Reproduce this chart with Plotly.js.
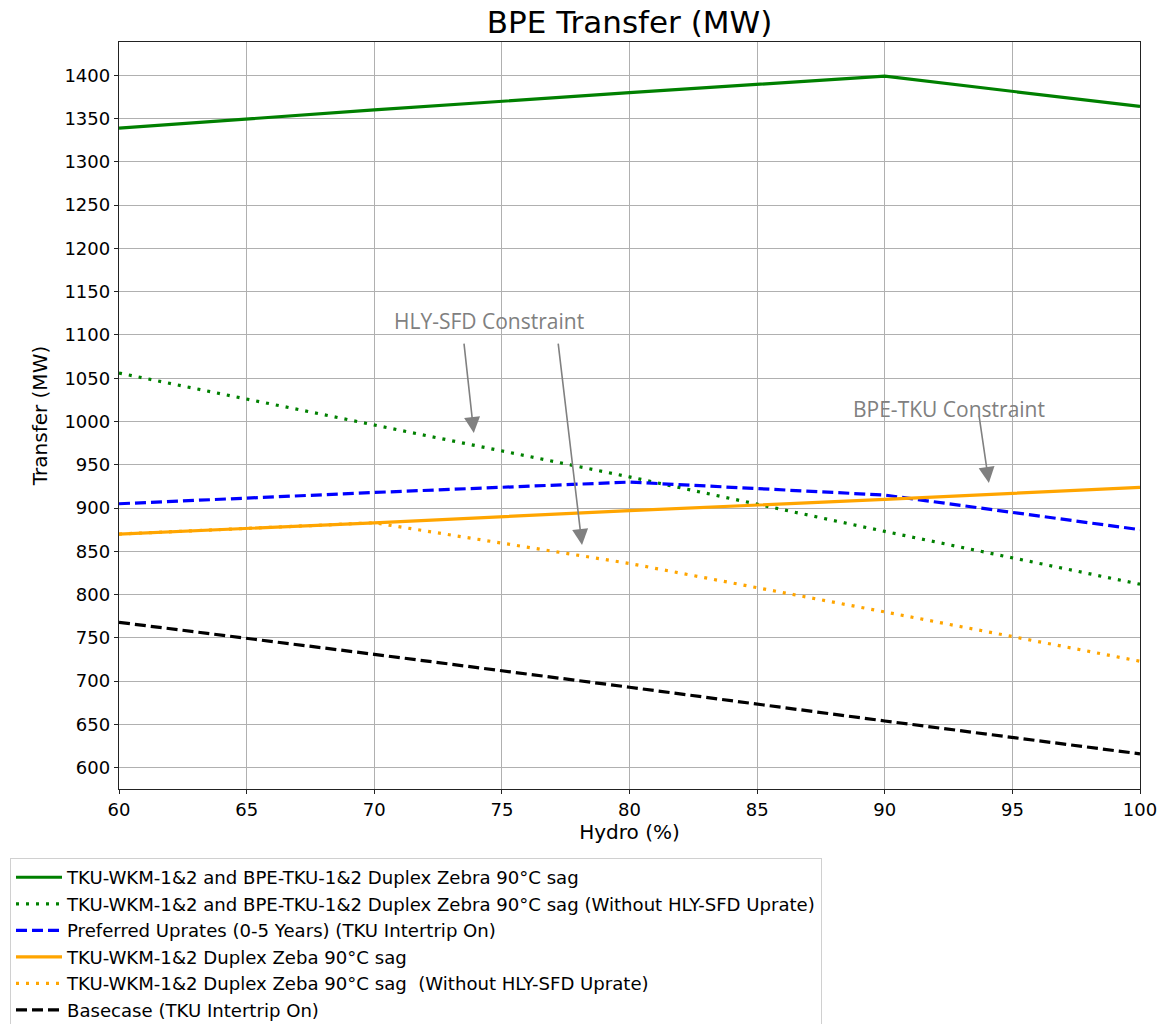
<!DOCTYPE html>
<html>
<head>
<meta charset="utf-8">
<script src="https://cdn.plot.ly/plotly-3.0.1.min.js"></script>
<style>html,body{margin:0;padding:0;background:#fff;}#chart{width:1166px;height:1024px;}</style>
</head>
<body>
<div id="chart"></div>
<script>
const hydro = [60, 70, 80, 90, 100];
const greenSolid = [1339, 1360, 1380, 1399, 1364];
const greenDotted = [1056, 996, 936, 873, 812];
const blueDashed = [905, 918, 930, 915, 875];
const orangeSolid = [870, 883, 897, 910, 924];
const orangeDotted = [870, 883, 836, 780, 723];
const blackDashed = [768, 731, 693, 654, 616];
const seriesNames = [
  'TKU-WKM-1&2 and BPE-TKU-1&2 Duplex Zebra 90°C sag',
  'TKU-WKM-1&2 and BPE-TKU-1&2 Duplex Zebra 90°C sag (Without HLY-SFD Uprate)',
  'Preferred Uprates (0-5 Years) (TKU Intertrip On)',
  'TKU-WKM-1&2 Duplex Zeba 90°C sag',
  'TKU-WKM-1&2 Duplex Zeba 90°C sag  (Without HLY-SFD Uprate)',
  'Basecase (TKU Intertrip On)'
];
const xTicks = [60, 65, 70, 75, 80, 85, 90, 95, 100];
const yTicks = [600, 650, 700, 750, 800, 850, 900, 950, 1000, 1050, 1100, 1150, 1200, 1250, 1300, 1350, 1400];

const values = [greenSolid, greenDotted, blueDashed, orangeSolid, orangeDotted, blackDashed];
const colors = ['#008000', '#008000', '#0000ff', '#ffa500', '#ffa500', '#000000'];
const dashes = ['solid', '3px,7px', '11px,5px', 'solid', '3px,7px', '11px,5px'];

const traces = values.map((v, i) => ({
  x: hydro, y: v, type: 'scatter', mode: 'lines', name: seriesNames[i],
  line: {color: colors[i], width: 3.2, dash: dashes[i]}
}));

const gray = '#808080';
const FONT = 'DejaVu Sans, sans-serif';
const layout = {
  width: 1166, height: 1024,
  margin: {l: 119, r: 26, t: 42, b: 235, autoexpand: false},
  paper_bgcolor: '#fff', plot_bgcolor: '#fff',
  font: {family: FONT, color: '#000'},
  title: {text: 'BPE Transfer (MW)', font: {size: 31, family: FONT, color: '#000'},
          xref: 'paper', x: 0.5, xanchor: 'center', yref: 'container', y: 1 - 22 / 1024, yanchor: 'middle'},
  xaxis: {
    range: [60, 100], tickvals: xTicks, ticktext: xTicks.map(String),
    showgrid: true, gridcolor: '#b0b0b0', gridwidth: 1,
    showline: true, linecolor: '#222', linewidth: 1.2, mirror: true,
    ticks: 'outside', ticklen: 4, tickcolor: '#222', zeroline: false,
    tickfont: {size: 18, family: FONT},
    title: {text: 'Hydro (%)', font: {size: 20, family: FONT}, standoff: 6}
  },
  yaxis: {
    range: [575.4, 1438.5], tickvals: yTicks, ticktext: yTicks.map(String),
    showgrid: true, gridcolor: '#b0b0b0', gridwidth: 1,
    showline: true, linecolor: '#222', linewidth: 1.2, mirror: true,
    ticks: 'outside', ticklen: 4, tickcolor: '#222', zeroline: false,
    tickfont: {size: 18, family: FONT},
    title: {text: 'Transfer (MW)', font: {size: 20, family: FONT}, standoff: 11}
  },
  showlegend: true,
  legend: {
    xref: 'paper', yref: 'paper',
    x: -0.10676, y: -0.09237, xanchor: 'left', yanchor: 'top',
    bgcolor: '#fff', bordercolor: '#d0d0d0', borderwidth: 1,
    font: {size: 18.1, family: FONT, color: '#000'},
    itemwidth: 46
  },
  annotations: [
    {x: 74.49, y: 1116, xref: 'x', yref: 'y', text: 'HLY-SFD Constraint', showarrow: false,
     font: {family: 'Open Sans', size: 21, color: gray}},
    {x: 92.51, y: 1014, xref: 'x', yref: 'y', text: 'BPE-TKU Constraint', showarrow: false,
     font: {family: 'Open Sans', size: 21, color: gray}},
    {x: 73.9, y: 986.7, ax: 73.51, ay: 1091.8, xref: 'x', yref: 'y', axref: 'x', ayref: 'y',
     text: '', showarrow: true, arrowhead: 2, arrowsize: 2, arrowwidth: 1.6, arrowcolor: gray},
    {x: 78.14, y: 857.3, ax: 77.2, ay: 1091.8, xref: 'x', yref: 'y', axref: 'x', ayref: 'y',
     text: '', showarrow: true, arrowhead: 2, arrowsize: 2, arrowwidth: 1.6, arrowcolor: gray},
    {x: 94.08, y: 929, ax: 93.69, ay: 1007.6, xref: 'x', yref: 'y', axref: 'x', ayref: 'y',
     text: '', showarrow: true, arrowhead: 2, arrowsize: 2, arrowwidth: 1.6, arrowcolor: gray}
  ]
};

Plotly.newPlot('chart', traces, layout, {displayModeBar: false, staticPlot: true});
</script>
</body>
</html>
